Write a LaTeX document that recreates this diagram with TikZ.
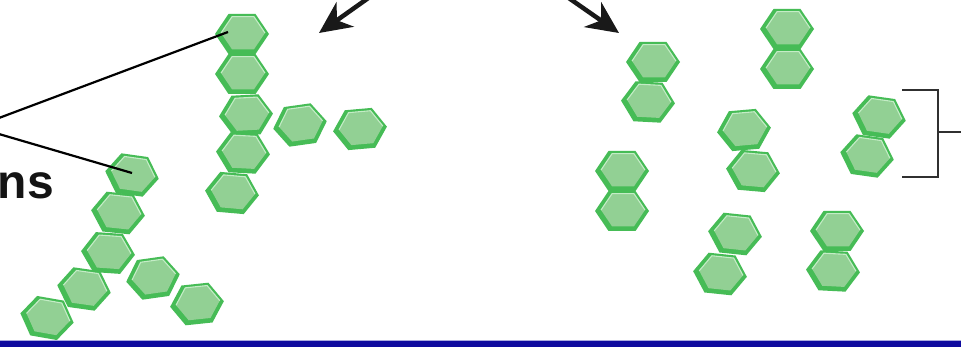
\documentclass[tikz,border=0pt]{standalone}
\usepackage{fontspec}
\newfontfamily\labelfont{Liberation Sans}
\usetikzlibrary{arrows.meta,calc}

\definecolor{celledge}{RGB}{70,188,86}
\definecolor{cellfill}{RGB}{146,208,148}
\definecolor{cellhi}{RGB}{196,236,198}
\definecolor{barblue}{RGB}{14,10,158}
\definecolor{barhi}{RGB}{170,170,222}
\definecolor{brackgray}{RGB}{48,48,48}

\tikzset{
  % one bevelled hexagonal sugar unit
  pics/hexcell/.style={code={
    \fill[celledge] (27,0) -- (13.5,-20) -- (-13.5,-20) -- (-27,0) -- (-13.5,20) -- (13.5,20) -- cycle;
    \fill[cellfill] (23,-1) -- (12,-17.3) -- (-10,-17.3) -- (-21,-1) -- (-10,15.3) -- (12,15.3) -- cycle;
    \draw[cellhi, line width=1.1pt, line join=round] (-21,-1) -- (-10,-17.3) -- (12,-17.3) -- (23,-1);
    \coordinate (-c) at (0,0);
  }},
  leader/.style={draw=black, line width=2.2pt},
  bigarrow/.style={draw=black!90, line width=4.5pt,
    -{Stealth[length=32pt, width=30pt, inset=10pt]}},
  bracketline/.style={draw=brackgray, line width=2.4pt},
  labeltext/.style={font=\labelfont\bfseries\fontsize{48}{52}\selectfont,
    text=black!92, inner sep=0pt, anchor=base east}
}

\begin{document}
\begin{tikzpicture}[x=1pt, y=-1pt]
\useasboundingbox (0,0) rectangle (961,347);
\clip (0,0) rectangle (961,347);
\fill[white] (0,0) rectangle (961,347);

% branched chain, upper left
\pic (h1) at (242,34) {hexcell};
\pic (h2) at (242,74) {hexcell};
\pic[rotate=3] (h3) at (246,115) {hexcell};
\pic[rotate=8] (h4) at (300,125) {hexcell};
\pic[rotate=5] (h5) at (360,129) {hexcell};
\pic[rotate=-3] (h6) at (243,153) {hexcell};
\pic[rotate=-5] (h7) at (232,193) {hexcell};

% branched chain, lower left
\pic[rotate=-8] (ha) at (132,175) {hexcell};
\pic[rotate=-6] (hb) at (118,213) {hexcell};
\pic[rotate=-4] (hc) at (108,253) {hexcell};
\pic[rotate=-8] (hd) at (84,289) {hexcell};
\pic[rotate=-10] (he) at (47,318) {hexcell};
\pic[rotate=8] (hf) at (153,278) {hexcell};
\pic[rotate=6] (hg) at (197,304) {hexcell};

% separate pairs on the right
\pic (p1a) at (653,62) {hexcell};
\pic[rotate=-3] (p1b) at (648,102) {hexcell};
\pic (p2a) at (787,29) {hexcell};
\pic (p2b) at (787,69) {hexcell};
\pic[rotate=5] (p3a) at (744,130) {hexcell};
\pic[rotate=-5] (p3b) at (753,171) {hexcell};
\pic[rotate=-8] (p4a) at (879,117) {hexcell};
\pic[rotate=-8] (p4b) at (867,156) {hexcell};
\pic (p5a) at (622,171) {hexcell};
\pic (p5b) at (622,211) {hexcell};
\pic[rotate=-6] (p6a) at (735,234) {hexcell};
\pic[rotate=-6] (p6b) at (720,274) {hexcell};
\pic (p7a) at (837,231) {hexcell};
\pic[rotate=-3] (p7b) at (833,271) {hexcell};

% label and its leader lines
\node[labeltext] (lbl) at (54,199) {ns};
\coordinate (src) at (-25,127);
\draw[leader] (src) -- ($(h1-c)+(-14,-2)$);
\draw[leader] (src) -- ($(ha-c)+(0,-2)$);

% arrows from above
\coordinate (a1s) at (374,-6);
\coordinate (a1e) at (319,33);
\coordinate (a2s) at (563,-6);
\coordinate (a2e) at (619,33);
\draw[bigarrow] (a1s) -- (a1e);
\draw[bigarrow] (a2s) -- (a2e);

% bracket around one pair
\coordinate (bt) at (902,90);
\coordinate (bb) at (902,177);
\coordinate (bm) at (938,132);
\coordinate (bo) at (966,132);
\draw[bracketline] (bt) -- (938,90) -- (938,177) -- (bb);
\draw[bracketline] (bm) -- (bo);

% footer bar
\fill[barblue] (0,341) rectangle (961,348);
\draw[barhi, line width=1pt] (0,340.5) -- (961,340.5);
\end{tikzpicture}
\end{document}
